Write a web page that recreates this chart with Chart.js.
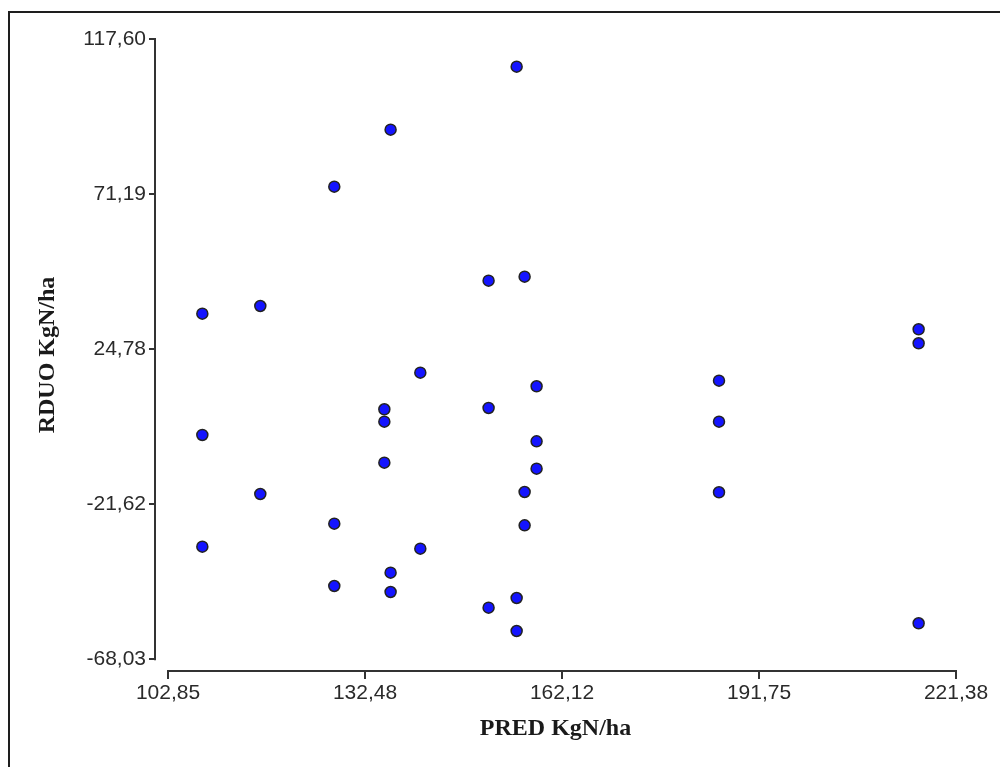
<!DOCTYPE html>
<html>
<head>
<meta charset="utf-8">
<title>RDUO vs PRED</title>
<script src="https://cdn.jsdelivr.net/npm/chart.js@4/dist/chart.umd.min.js"></script>
<style>
  html, body { margin: 0; padding: 0; background: #fff; }
  #wrap { position: relative; width: 1000px; height: 767px; overflow: hidden; }
  #frame {
    position: absolute; left: 8px; top: 11px; right: -10px; bottom: -10px;
    border-top: 2px solid #1e1e1e; border-left: 2px solid #1e1e1e;
    pointer-events: none;
  }
  canvas { position: absolute; left: 0; top: 0; }
</style>
</head>
<body>
<div id="wrap">
  <canvas id="chart" width="1000" height="767"></canvas>
  <div id="frame"></div>
</div>
<script>
// PRED (x) and RDUO (y), kg N/ha
const predValues = [
  108.01, 108.01, 108.01,
  116.73, 116.73,
  127.86, 127.86, 127.86,
  135.39, 135.39, 135.39,
  136.33, 136.33, 136.33,
  140.80, 140.80,
  151.07, 151.07, 151.07,
  155.29, 155.29, 155.29,
  156.49, 156.49, 156.49,
  158.29, 158.29, 158.29,
  185.73, 185.73, 185.73,
  215.76, 215.76, 215.76
];
const rduoValues = [
  35.40, -0.90, -34.33,
  37.70, -18.56,
  73.40, -27.45, -46.09,
  6.79, 3.08, -9.19,
  90.46, -42.11, -47.89,
  17.74, -34.93,
  45.27, 7.18, -52.58,
  109.31, -49.68, -59.56,
  46.47, -17.96, -27.93,
  13.67, -2.79, -10.99,
  15.35, 3.08, -18.05,
  30.73, 26.54, -57.25
];
const xTicks = [102.85, 132.48, 162.12, 191.75, 221.38];
const yTicks = [-68.03, -21.62, 24.78, 71.19, 117.60];

const points = predValues.map((x, i) => ({ x: x, y: rduoValues[i] }));
const fmt = v => Number(v).toFixed(2).replace('.', ',');

const tickFont = { family: '"Liberation Sans", Arial, sans-serif', size: 21 };
const titleFont = { family: '"Liberation Serif", "Times New Roman", serif', size: 24, weight: 'bold' };

// axis lines only span first..last tick, detached at the corner
const axisLines = {
  id: 'axisLines',
  afterDraw(chart) {
    const { ctx, chartArea, scales } = chart;
    ctx.save();
    ctx.strokeStyle = '#333';
    ctx.lineWidth = 2;
    ctx.beginPath();
    ctx.moveTo(chartArea.left, scales.y.getPixelForValue(yTicks[yTicks.length - 1]) - 1);
    ctx.lineTo(chartArea.left, scales.y.getPixelForValue(yTicks[0]) + 1);
    ctx.moveTo(scales.x.getPixelForValue(xTicks[0]) - 1, chartArea.bottom);
    ctx.lineTo(scales.x.getPixelForValue(xTicks[xTicks.length - 1]) + 1, chartArea.bottom);
    ctx.stroke();
    ctx.restore();
  }
};

new Chart(document.getElementById('chart'), {
  type: 'scatter',
  data: {
    datasets: [{
      data: points,
      backgroundColor: '#1414ff',
      borderColor: '#222',
      borderWidth: 1.5,
      pointRadius: 5.5
    }]
  },
  options: {
    responsive: false,
    animation: false,
    layout: { padding: { top: 39, right: 44, bottom: 0, left: 0 } },
    plugins: { legend: { display: false }, tooltip: { enabled: false } },
    scales: {
      x: {
        type: 'linear',
        min: 100.89,
        max: 221.38,
        afterBuildTicks: s => { s.ticks = xTicks.map(v => ({ value: v })); },
        afterFit: s => { s.height = 96; },
        border: { display: false },
        grid: { drawOnChartArea: false, drawTicks: true, tickLength: 8, color: '#333', lineWidth: 2 },
        ticks: { callback: fmt, color: '#2a2a2a', font: tickFont, padding: 2, autoSkip: false, maxRotation: 0 },
        title: { display: true, text: 'PRED KgN/ha', color: '#1a1a1a', font: titleFont, padding: { top: 0, bottom: 24 } }
      },
      y: {
        type: 'linear',
        min: -71.53,
        max: 117.60,
        afterBuildTicks: s => { s.ticks = yTicks.map(v => ({ value: v })); },
        afterFit: s => { s.width = 155; },
        border: { display: false },
        grid: { drawOnChartArea: false, drawTicks: true, tickLength: 6, color: '#333', lineWidth: 2 },
        ticks: { callback: fmt, color: '#2a2a2a', font: tickFont, padding: 3 },
        title: { display: true, text: 'RDUO KgN/ha', color: '#1a1a1a', font: titleFont, padding: { top: 33, bottom: 0 } }
      }
    }
  },
  plugins: [axisLines]
});
</script>
</body>
</html>
